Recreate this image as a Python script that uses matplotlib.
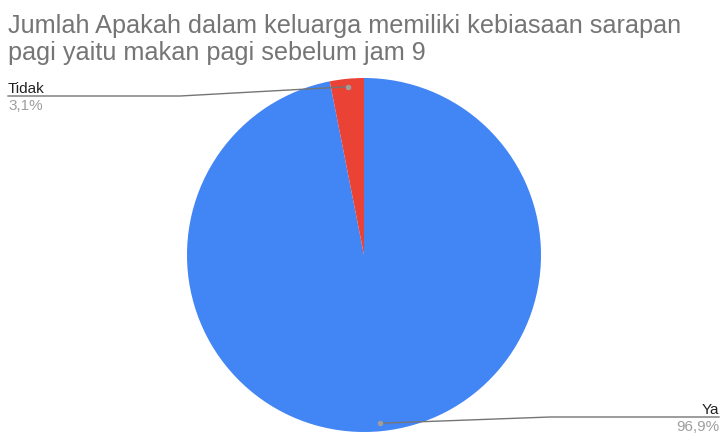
import numpy as np
import matplotlib
matplotlib.use("Agg")
import matplotlib.pyplot as plt

title_lines = ["Jumlah Apakah dalam keluarga memiliki kebiasaan sarapan",
               "pagi yaitu makan pagi sebelum jam 9"]
labels = ["Ya", "Tidak"]
values = [96.9, 3.1]
pct_labels = ["96,9%", "3,1%"]
colors = ["#4285F4", "#EA4335"]

W, H = 721, 435
fig = plt.figure(figsize=(W / 100, H / 100), dpi=100)
ax = fig.add_axes([0, 0, 1, 1])

cx, cy, R = 364, H - 256, 177
wedges, _ = ax.pie(values, colors=colors, startangle=90, counterclock=False,
                   center=(cx, cy), radius=R, frame=True,
                   wedgeprops=dict(linewidth=0))
ax.set_xlim(0, W)
ax.set_ylim(0, H)
ax.set_aspect("equal")
ax.axis("off")

font = ["Liberation Sans", "DejaVu Sans"]
for i, line in enumerate(title_lines):
    fig.text(8 / W, 1 - (33 + 27 * i) / H, line, fontsize=18.2, color="#757575",
             family=font, va="baseline", ha="left")

# label anchors (pixel coords from top)
label_pos = {"Ya": (719, 418, "right"), "Tidak": (8, 97, "left")}
bend_x = {"Ya": 550, "Tidak": 180}

total = sum(values)
start = 90.0
for lab, val, pct, w in zip(labels, values, pct_labels, wedges):
    sweep = 360 * val / total
    mid = np.deg2rad(start - sweep / 2)
    start -= sweep
    dx = cx + 0.955 * R * np.cos(mid)
    dy = cy + 0.955 * R * np.sin(mid)
    lx, ly, ha = label_pos[lab]
    ly = H - ly
    bx = bend_x[lab]
    ax.plot([dx, bx, lx], [dy, ly, ly], color="#757575", lw=1)
    ax.plot([dx], [dy], "o", color="#9e9e9e", ms=4, mec="none")
    ax.text(lx, ly + 4, lab, fontsize=11, color="#222222", family=font,
            ha=ha, va="baseline")
    ax.text(lx, ly - 13, pct, fontsize=11, color="#9e9e9e", family=font,
            ha=ha, va="baseline")

fig.savefig("out.png", dpi=100)
